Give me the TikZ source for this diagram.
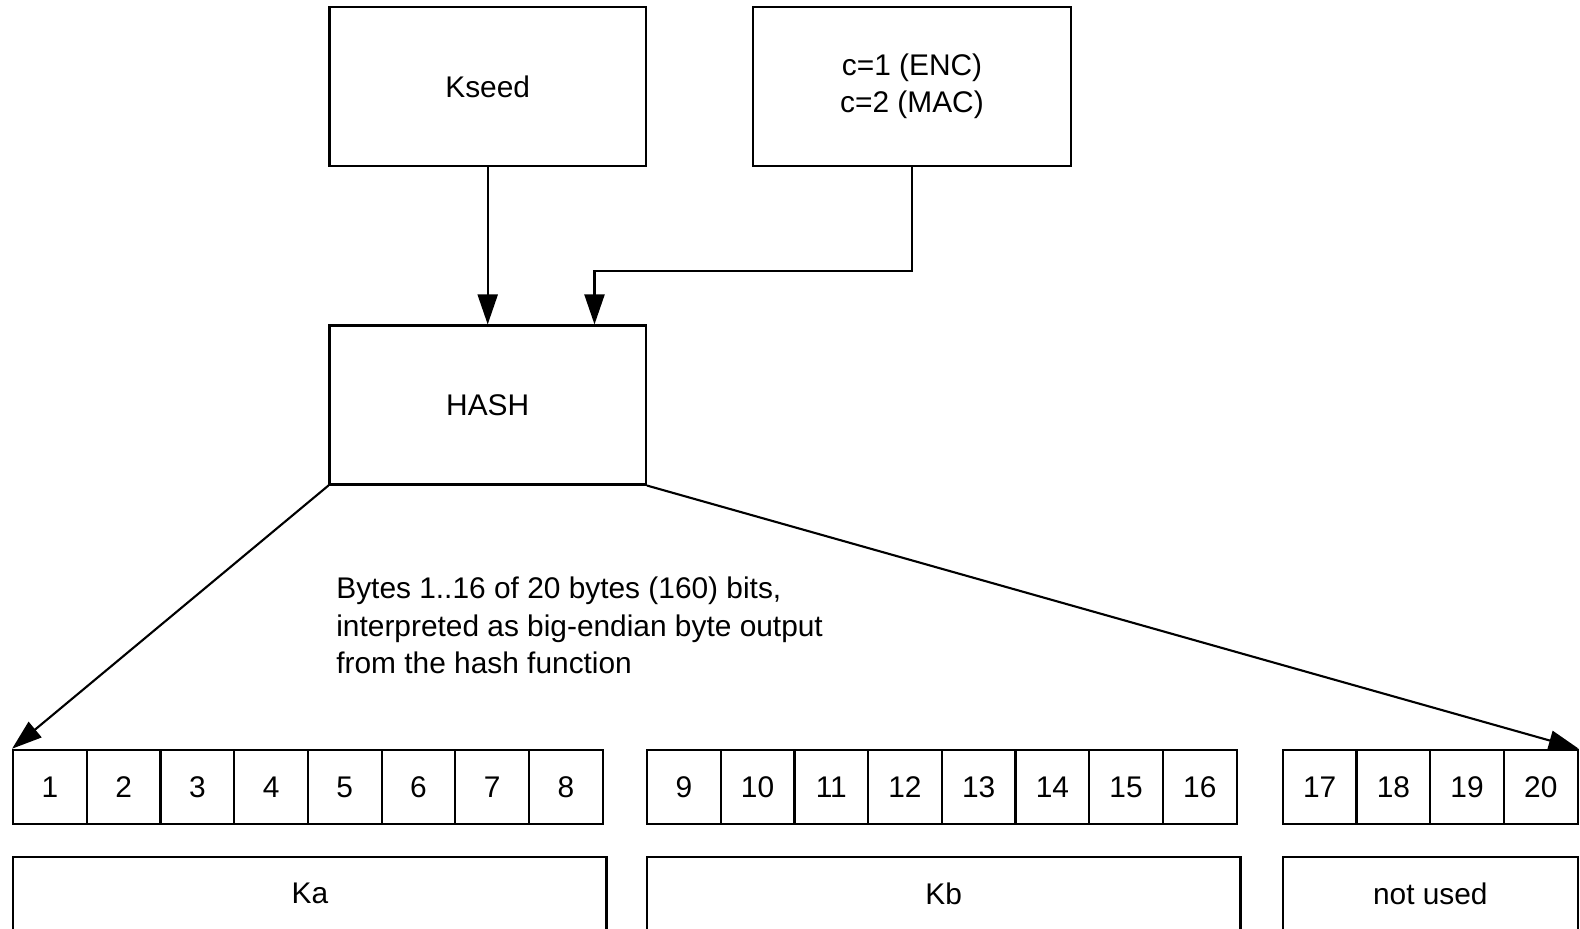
\documentclass[tikz,border=0pt]{standalone}
\usepackage{fontspec}
\setmainfont{Liberation Sans}
\usetikzlibrary{calc,arrows.meta}

\begin{document}
\begin{tikzpicture}[
		x=0.02cm,y=-0.02cm,
		node font=\fontsize{17}{21.2}\selectfont,
		block/.style={draw,line width=1.2pt,minimum width=6.33cm,minimum height=3.18cm,inner sep=0pt},
		bytecell/.style={draw,line width=1.2pt,minimum width=1.474cm,minimum height=1.49cm,inner sep=0pt,anchor=north west},
		keypart/.style={draw,line width=1.2pt,minimum height=1.49cm,inner sep=0pt,anchor=north west},
		flow/.style={line width=1.2pt,-{Triangle[length=0.6cm,width=0.4cm]}},
	]
	\useasboundingbox (0,0) rectangle (1580,929);
	%
	\node[block]                     (Kseed) at (487.7,86.6) {Kseed};
	\node[block,minimum width=6.37cm,align=center] (cparam) at (912,86.6) {c=1 (ENC)\\c=2 (MAC)};
	\node[block]                     (Hash)  at (487.7,405) {HASH};
	%
	\node[anchor=west,align=left,inner sep=0pt] (bytes_txt) at (336,625.5) {%
		Bytes 1..16 of 20 bytes (160) bits,\\
		interpreted as big-endian byte output\\
		from the hash function};
	%
	% byte cells
	\foreach \i in {1,...,8}
		\node[bytecell] (b\i) at ({12.1+(\i-1)*73.7},748.7) {\i};
	\foreach \i in {9,...,16}
		\node[bytecell] (b\i) at ({646+(\i-9)*73.7},748.7) {\i};
	\foreach \i in {17,...,20}
		\node[bytecell] (b\i) at ({1281.8+(\i-17)*73.7},748.7) {\i};
	%
	\node[keypart,minimum width=11.87cm] (Ka)     at (12.1,855.5) {Ka};
	\node[keypart,minimum width=11.87cm] (Kb)     at (646,855.5) {Kb};
	\node[keypart,minimum width=5.90cm]  (unused) at (1281.8,855.5) {not used};
	%
	\coordinate (hash_in) at ($ (Hash.north) + (106.8,0) $);
	\draw[flow] (Kseed.south) -- (Hash.north);
	\draw[flow] (cparam.south) -- ++(0,103.7) -| (hash_in);
	\draw[flow] (Hash.south west) -- (b1.north west);
	\draw[flow] (Hash.south east) -- (b20.north east);
\end{tikzpicture}
\end{document}
